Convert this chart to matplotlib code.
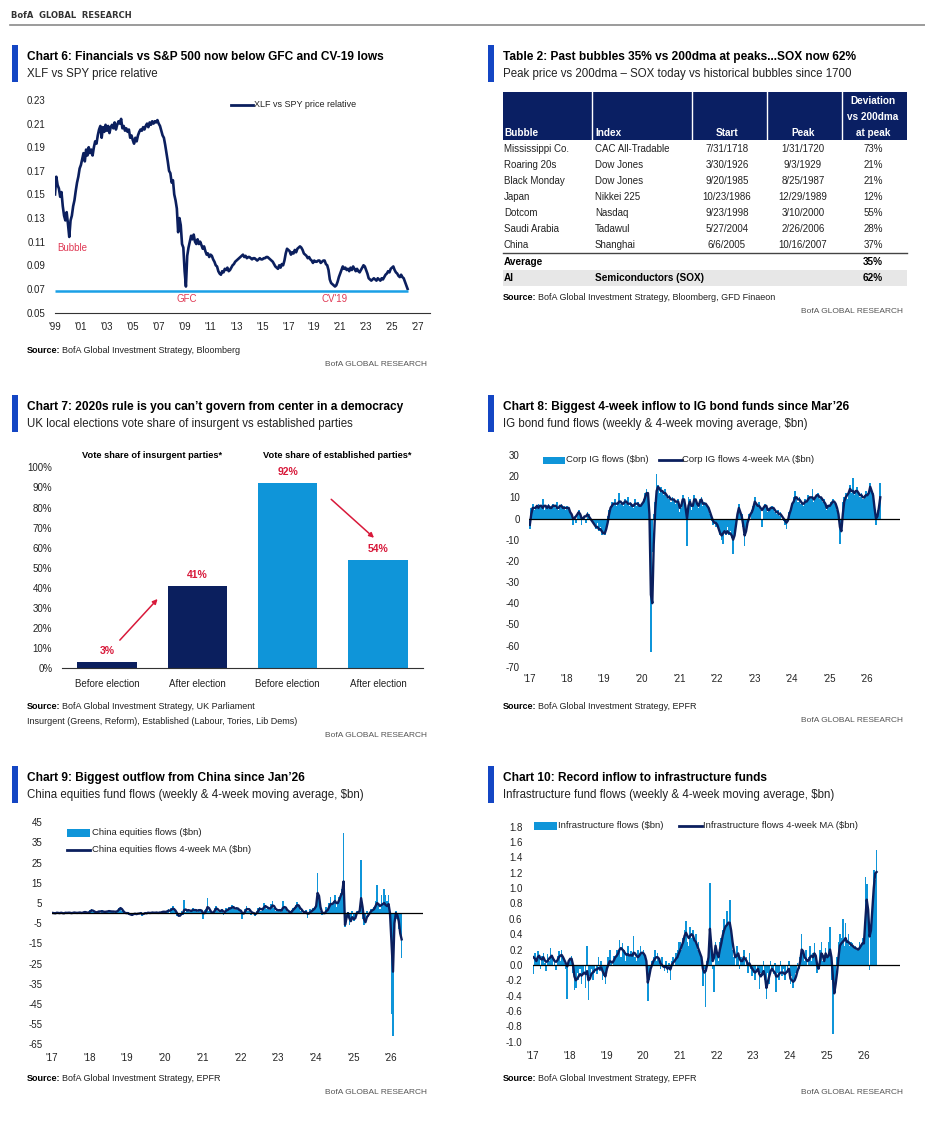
import numpy as np
import pandas as pd
import matplotlib
matplotlib.use("Agg")
import matplotlib.pyplot as plt
from matplotlib.patches import Rectangle
from matplotlib.lines import Line2D

plt.rcParams["font.family"] = ["Liberation Sans Narrow", "Liberation Sans", "DejaVu Sans"]
plt.rcParams["axes.unicode_minus"] = False

NAVY = "#0b1f5e"
LIGHT = "#0f95d9"
ACCENT = "#1446c4"
RED = "#d8193a"
GRAY = "#555555"

# ---------------- data ----------------
# Chart 6: XLF vs SPY price relative, sampled every 0.1 yr from 1999.0
xlf_rel = [
    0.150, 0.165, 0.158, 0.155, 0.148, 0.152, 0.140, 0.132, 0.128, 0.135,  # 1999
    0.125, 0.114, 0.128, 0.132, 0.140, 0.145, 0.153, 0.160, 0.165, 0.172,  # 2000
    0.175, 0.180, 0.185, 0.178, 0.188, 0.183, 0.190, 0.185, 0.188, 0.183,  # 2001
    0.190, 0.195, 0.193, 0.200, 0.205, 0.208, 0.198, 0.207, 0.203, 0.209,  # 2002
    0.204, 0.208, 0.202, 0.207, 0.209, 0.206, 0.211, 0.205, 0.209, 0.212,  # 2003
    0.210, 0.214, 0.206, 0.208, 0.204, 0.206, 0.203, 0.205, 0.198, 0.200,  # 2004
    0.196, 0.193, 0.198, 0.195, 0.200, 0.203, 0.205, 0.204, 0.207, 0.205,  # 2005
    0.208, 0.210, 0.207, 0.211, 0.209, 0.212, 0.210, 0.212, 0.211, 0.213,  # 2006
    0.210, 0.208, 0.204, 0.200, 0.198, 0.192, 0.185, 0.178, 0.170, 0.168,  # 2007
    0.160, 0.162, 0.150, 0.145, 0.138, 0.118, 0.130, 0.124, 0.108, 0.105,  # 2008
    0.085, 0.072, 0.098, 0.105, 0.110, 0.115, 0.112, 0.116, 0.110, 0.108,  # 2009
    0.112, 0.108, 0.110, 0.107, 0.104, 0.106, 0.102, 0.099, 0.100, 0.097,  # 2010
    0.099, 0.098, 0.095, 0.093, 0.090, 0.089, 0.085, 0.083, 0.082, 0.085,  # 2011
    0.084, 0.087, 0.086, 0.088, 0.085, 0.086, 0.088, 0.090, 0.091, 0.093,  # 2012
    0.094, 0.095, 0.096, 0.097, 0.098, 0.099, 0.097, 0.098, 0.096, 0.097,  # 2013
    0.097, 0.096, 0.095, 0.096, 0.096, 0.095, 0.094, 0.095, 0.096, 0.095,  # 2014
    0.095, 0.096, 0.096, 0.097, 0.097, 0.096, 0.095, 0.094, 0.093, 0.091,  # 2015
    0.089, 0.088, 0.087, 0.090, 0.088, 0.091, 0.090, 0.094, 0.100, 0.104,  # 2016
    0.103, 0.102, 0.099, 0.101, 0.100, 0.103, 0.101, 0.104, 0.105, 0.106,  # 2017
    0.105, 0.103, 0.100, 0.099, 0.098, 0.096, 0.097, 0.095, 0.094, 0.092,  # 2018
    0.094, 0.093, 0.093, 0.094, 0.094, 0.092, 0.093, 0.094, 0.094, 0.091,  # 2019
    0.090, 0.086, 0.078, 0.075, 0.074, 0.073, 0.072, 0.073, 0.076, 0.080,  # 2020
    0.083, 0.086, 0.089, 0.087, 0.088, 0.086, 0.087, 0.085, 0.088, 0.086,  # 2021
    0.089, 0.087, 0.085, 0.087, 0.085, 0.084, 0.086, 0.088, 0.090, 0.089,  # 2022
    0.086, 0.083, 0.079, 0.078, 0.077, 0.078, 0.079, 0.078, 0.077, 0.079,  # 2023
    0.078, 0.077, 0.079, 0.078, 0.080, 0.082, 0.083, 0.085, 0.084, 0.087,  # 2024
    0.088, 0.089, 0.086, 0.084, 0.083, 0.081, 0.080, 0.082, 0.080, 0.079,  # 2025
    0.076, 0.073, 0.070,                                                   # 2026
]
xlf_floor = 0.068
xlf_notes = [("Bubble", 1999.2, 0.105), ("GFC", 2009.2, 0.0615), ("CV'19", 2020.6, 0.0612)]

# Table 2
bubble_names = ["Mississippi Co.", "Roaring 20s", "Black Monday", "Japan", "Dotcom", "Saudi Arabia", "China"]
bubble_index = ["CAC All-Tradable", "Dow Jones", "Dow Jones", "Nikkei 225", "Nasdaq", "Tadawul", "Shanghai"]
bubble_start = ["7/31/1718", "3/30/1926", "9/20/1985", "10/23/1986", "9/23/1998", "5/27/2004", "6/6/2005"]
bubble_peak = ["1/31/1720", "9/3/1929", "8/25/1987", "12/29/1989", "3/10/2000", "2/26/2006", "10/16/2007"]
bubble_dev = ["73%", "21%", "21%", "12%", "55%", "28%", "37%"]

# Chart 7
vote_groups = ["Vote share of insurgent parties*", "Vote share of established parties*"]
vote_labels = ["Before election", "After election", "Before election", "After election"]
vote_share = [0.03, 0.41, 0.92, 0.54]
vote_colors = [NAVY, NAVY, LIGHT, LIGHT]

# Chart 8: IG bond fund flows, $bn, bi-weekly readings
ig_flows = [
    -5, 5, 7, 4, 6, 5, 7, 5, 6, 9, 4, 6, 5, 7, 6, 5, 7, 6, 5, 8, 4, 6, 7, 5, 6, 4,  # 2017
    6, 4, 3, 1, -3, 1, -2, 3, 4, 2, -3, 0, 1, -2, 3, 2, 0, -1, -2, -3, -5, -2, -6, -4, -8, -7,  # 2018
    -8, -5, 1, 4, 6, 8, 7, 9, 6, 8, 12, 7, 8, 6, 9, 7, 10, 6, 8, 7, 5, 9, 6, 8, 7, 6,  # 2019
    7, 9, 12, 14, 11, -8, -63, -16, 2, 8, 21, 16, 12, 15, 13, 11, 14, 10, 9, 11, 8, 10, 9, 7, 8, 9,  # 2020
    3, 5, 11, 9, 6, -13, 10, 9, 4, 6, 11, 9, 7, 5, 9, 10, 6, 8, 7, 6, 4, 2, -1, -3, -2, -4,  # 2021
    -3, -6, -8, -10, -12, -7, -8, -4, -8, -6, -9, -17, -6, -2, 2, 7, 3, 2, -4, -13, -6, -1, 2, 0, 4, 6,  # 2022
    10, 7, 6, 8, 4, -4, 5, 7, 6, 3, 5, 4, 6, 5, 3, 2, 4, 1, 3, 0, -1, -3, -5, 0, 3, 5,  # 2023
    7, 10, 13, 9, 8, 10, 7, 8, 6, 9, 8, 11, 9, 10, 14, 8, 10, 11, 12, 9, 10, 8, 9, 7, 4, 6,  # 2024
    6, 8, 9, 7, 6, 4, 1, -12, -2, 8, 10, 12, 9, 13, 16, 12, 19, 11, 13, 15, 12, 10, 12, 9, 11, 13,  # 2025
    12, 13, 17, 14, 12, 3, -3, 4, 6, 17,  # 2026
]
ig_ma = [
    -3, 2, 5, 5, 5, 6, 5, 6, 6, 5, 6, 6, 5, 6, 5, 5, 6, 6, 6, 5, 5, 6, 6, 5, 5, 5,  # 2017
    5, 5, 3, 2, 0, 0, 1, 2, 3, 2, 0, 0, 1, 1, 2, 1, 0, -1, -2, -3, -4, -4, -5, -5, -6, -7,  # 2018
    -7, -5, -2, 2, 5, 6, 7, 7, 7, 7, 8, 8, 7, 7, 8, 8, 7, 7, 7, 6, 6, 7, 7, 7, 6, 6,  # 2019
    7, 8, 10, 12, 12, 2, -36, -40, -12, 4, 13, 15, 14, 13, 13, 12, 12, 11, 10, 10, 9, 9, 9, 8, 8, 8,  # 2020
    5, 6, 9, 9, 5, 0, 6, 8, 6, 6, 9, 9, 7, 6, 8, 9, 7, 7, 7, 6, 5, 3, 1, -1, -2, -2,  # 2021
    -3, -5, -7, -8, -7, -6, -7, -6, -7, -7, -8, -10, -8, -3, 2, 5, 3, 1, -3, -8, -6, -2, 0, 2, 3, 5,  # 2022
    8, 7, 6, 6, 5, 4, 5, 6, 6, 4, 4, 5, 5, 5, 4, 3, 3, 2, 2, 1, 0, -1, -2, -1, 2, 4,  # 2023
    7, 8, 10, 10, 9, 9, 8, 7, 7, 8, 8, 9, 10, 10, 10, 9, 10, 11, 11, 10, 10, 9, 8, 7, 5, 6,  # 2024
    6, 7, 8, 8, 7, 5, 2, -4, -6, 2, 8, 10, 11, 12, 14, 13, 13, 12, 13, 13, 12, 11, 11, 10, 10, 11,  # 2025
    11, 12, 15, 13, 11, 5, 0, 1, 5, 10,  # 2026
]

# Chart 9: China equities fund flows, $bn
china_flows = [
    0.3, -0.5, 0.2, 0.5, -0.3, 0.1, 0.4, -0.6, 0.2, 0.3, -0.2, 0.5, 0.1, -0.4, 0.3, 0.6, -0.2, 0.1, 0.4, 0.2, -0.3, 0.5, 0.8, 0.3, -0.1, 0.4,  # 2017
    1.5, 2.2, 0.5, 1.0, -0.5, 0.8, 1.2, 0.3, 1.5, 0.6, 0.2, 1.0, 0.8, 1.4, 0.5, 0.9, 1.1, 0.3, 0.7, 1.2, 2.5, 3.0, 1.0, 0.5, -0.5, 0.3,  # 2018
    0.5, -1.0, -0.5, -1.2, 0.3, -0.6, -0.8, 0.2, -0.4, 0.5, -1.5, 0.3, 0.2, -0.5, 0.8, -0.3, 0.4, 0.6, -0.2, 0.3, 0.5, -0.4, 0.7, 0.2, 1.0, 0.6,  # 2019
    0.5, 1.0, 1.8, 0.3, 2.5, 3.5, 1.5, 0.5, -1.5, -2.0, -0.5, 1.0, -1.0, 6.5, 0.5, 1.5, 2.0, 0.8, 1.2, 2.5, 1.0, 1.8, 0.6, 2.2, 1.5, 1.0,  # 2020
    -3.0, 1.5, 2.0, 7.4, 1.0, 0.5, -0.5, 0.8, 2.5, 3.5, 1.0, 0.5, 1.5, 2.0, -1.0, 0.8, 2.5, 1.5, 3.0, 2.0, 4.0, 2.5, 1.5, 3.0, 2.0, 1.0,  # 2021
    1.5, -3.0, 0.5, 2.0, 3.5, 1.0, 2.5, -1.0, 0.5, 0.0, -1.5, 1.0, 2.5, 3.0, 1.0, 2.0, 5.0, 3.5, 2.0, 3.0, 1.5, 4.5, 6.0, 2.5, 1.0, 2.0,  # 2022
    1.0, 2.0, 0.5, 6.0, 3.0, 2.0, 0.5, 1.0, -0.5, 1.5, 2.5, 3.0, 4.0, 5.5, 3.0, 1.0, 2.0, -0.5, 0.5, 1.5, -2.5, 0.5, 2.0, 1.0, 2.5, 3.0,  # 2023
    4.0, 20.0, 8.0, 1.0, -1.0, 0.5, 0.0, 3.0, 1.0, 5.0, 8.0, 4.0, 6.0, 9.0, 3.0, 5.0, 8.0, 10.0, 12.0, 39.5, -7.0, -4.0, 0.5, -6.0, -3.0, 1.0,  # 2024
    -4.0, -2.0, 1.0, 0.0, 3.0, 26.5, -3.0, -6.0, -4.0, 1.0, -2.0, 0.5, 2.0, 1.0, 3.0, 6.0, 14.0, 5.0, 2.0, 9.0, 4.0, 12.0, 9.0, 6.0, 9.0, -2.0,  # 2025
    -50.0, -61.0, -2.0, 1.0, -3.0, -8.0, -10.0, -22.0,  # 2026
]
china_ma = [
    0.1, 0.0, -0.1, 0.2, 0.1, 0.0, 0.2, 0.0, -0.1, 0.2, 0.1, 0.2, 0.2, 0.0, 0.1, 0.3, 0.2, 0.1, 0.2, 0.3, 0.1, 0.2, 0.5, 0.5, 0.2, 0.3,  # 2017
    0.8, 1.4, 1.2, 0.8, 0.4, 0.5, 0.8, 0.8, 0.9, 0.8, 0.6, 0.7, 0.8, 1.0, 0.9, 0.8, 0.8, 0.7, 0.7, 1.0, 1.8, 2.5, 2.0, 1.0, 0.2, 0.0,  # 2018
    0.0, -0.4, -0.7, -0.9, -0.5, -0.3, -0.5, -0.3, -0.2, 0.0, -0.5, -0.4, 0.0, -0.1, 0.2, 0.1, 0.1, 0.3, 0.2, 0.2, 0.3, 0.1, 0.3, 0.3, 0.6, 0.7,  # 2019
    0.6, 0.8, 1.2, 1.2, 1.6, 2.2, 2.0, 1.2, 0.0, -1.2, -1.3, -0.5, 0.0, 1.5, 1.8, 1.3, 1.5, 1.2, 1.1, 1.6, 1.5, 1.5, 1.2, 1.4, 1.5, 1.3,  # 2020
    0.0, 0.0, 1.0, 3.0, 2.5, 1.2, 0.2, 0.3, 1.2, 2.3, 2.0, 1.2, 1.0, 1.5, 0.8, 0.6, 1.3, 1.6, 2.2, 2.4, 2.8, 3.0, 2.2, 2.4, 2.3, 1.6,  # 2021
    1.2, 0.0, -0.2, 0.8, 2.0, 2.0, 1.8, 0.8, 0.2, 0.0, -0.5, 0.0, 1.0, 2.2, 2.0, 1.8, 2.8, 3.5, 3.0, 2.6, 2.2, 2.8, 3.8, 3.5, 2.2, 1.6,  # 2022
    1.4, 1.5, 1.2, 2.5, 3.0, 2.8, 1.6, 1.0, 0.4, 0.6, 1.5, 2.2, 3.0, 4.0, 3.8, 2.5, 1.8, 0.8, 0.4, 0.6, -0.2, -0.2, 0.5, 1.0, 1.6, 2.2,  # 2023
    3.5, 10.0, 8.5, 3.0, 0.5, 0.0, 0.0, 1.0, 1.5, 3.0, 4.5, 4.5, 5.0, 6.0, 5.0, 5.0, 6.5, 8.5, 10.0, 15.7, -5.8, -2.5, 0.0, -2.5, -4.0, -2.0,  # 2024
    -3.0, -2.5, 0.0, 0.5, 1.0, 7.4, 3.0, -3.0, -4.5, -2.0, -1.0, 0.0, 1.0, 1.5, 2.0, 3.5, 5.0, 4.5, 3.5, 4.0, 4.5, 5.0, 4.0, 3.5, 4.5, 0.0,  # 2025
    -15.0, -29.0, -5.0, 0.0, -1.0, -4.0, -10.0, -13.0,  # 2026
]

# Chart 10: Infrastructure fund flows, $bn
infra_flows = [
    -0.12, 0.15, 0.05, 0.18, 0.1, -0.05, 0.12, 0.16, 0.02, -0.08, 0.14, 0.05, 0.22, 0.1, 0.0, 0.08, -0.06, 0.12, 0.18, 0.05, 0.2, 0.1, 0.02, -0.05, -0.45, 0.0,  # 2017
    0.08, 0.12, -0.1, -0.33, -0.3, -0.1, -0.2, -0.05, -0.25, -0.12, 0.0, -0.3, 0.25, -0.46, -0.15, -0.05, -0.2, -0.1, 0.0, -0.12, 0.1, -0.08, 0.05, -0.2, -0.15, -0.25,  # 2018
    -0.05, 0.1, 0.2, 0.05, 0.0, 0.12, 0.08, 0.2, 0.15, 0.32, 0.1, 0.28, 0.2, 0.05, 0.15, 0.25, 0.1, 0.18, 0.12, 0.38, 0.1, 0.05, 0.2, 0.12, 0.25, 0.15,  # 2019
    0.2, 0.1, -0.05, -0.47, -0.2, 0.0, 0.05, 0.1, 0.2, 0.05, 0.15, 0.08, -0.05, 0.1, 0.0, -0.08, 0.05, -0.1, 0.02, -0.2, 0.05, 0.1, 0.0, 0.15, 0.2, 0.3,  # 2020
    0.3, 0.2, 0.35, 0.45, 0.57, 0.3, 0.25, 0.5, 0.35, 0.45, 0.3, 0.4, 0.2, 0.3, 0.15, 0.05, -0.27, -0.05, -0.55, 0.05, 0.2, 1.07, 0.3, -0.05, -0.35, 0.3,  # 2021
    0.15, 0.05, 0.3, 0.35, 0.45, 0.6, 0.5, 0.7, 0.55, 0.85, 0.4, 0.2, 0.1, 0.0, 0.25, 0.15, -0.05, 0.1, 0.05, 0.2, 0.0, 0.1, -0.1, 0.15, -0.05, -0.15,  # 2022
    -0.1, -0.2, 0.0, -0.05, -0.32, -0.1, -0.15, 0.05, -0.2, -0.45, -0.1, -0.25, 0.05, -0.05, -0.12, 0.02, -0.35, -0.1, -0.2, 0.05, -0.15, -0.05, -0.2, 0.0, -0.1, 0.05,  # 2023
    -0.25, -0.15, -0.3, -0.2, -0.1, 0.02, -0.05, 0.1, 0.4, 0.15, 0.05, 0.2, 0.0, 0.1, 0.25, 0.05, 0.15, 0.28, 0.1, -0.1, -0.05, 0.2, 0.3, 0.05, 0.1, 0.22,  # 2024
    0.1, 0.3, 0.5, -0.2, -0.9, -0.3, -0.25, 0.1, 0.3, 0.4, 0.35, 0.6, 0.25, 0.55, 0.3, 0.4, 0.25, 0.3, 0.28, 0.22, 0.25, 0.2, 0.22, 0.3, 0.25, 0.35,  # 2025
    0.3, 1.15, 1.05, 0.6, -0.07, 0.5, 0.9, 1.24, 1.1, 1.5,  # 2026
]
infra_ma = [
    0.1, 0.08, 0.05, 0.1, 0.12, 0.08, 0.07, 0.1, 0.06, 0.04, 0.05, 0.08, 0.1, 0.12, 0.08, 0.05, 0.04, 0.06, 0.1, 0.12, 0.13, 0.1, 0.06, 0.02, -0.02, 0.05,  # 2017
    0.08, 0.08, 0.0, -0.15, -0.2, -0.18, -0.15, -0.12, -0.14, -0.12, -0.1, -0.12, -0.08, -0.2, -0.18, -0.12, -0.1, -0.08, -0.06, -0.06, -0.04, -0.05, -0.03, -0.08, -0.12, -0.15,  # 2018
    -0.05, 0.0, 0.05, 0.04, 0.03, 0.06, 0.1, 0.12, 0.15, 0.2, 0.22, 0.2, 0.18, 0.15, 0.13, 0.14, 0.12, 0.13, 0.12, 0.16, 0.15, 0.12, 0.1, 0.12, 0.15, 0.16,  # 2019
    0.15, 0.12, 0.05, -0.23, -0.15, -0.05, 0.0, 0.05, 0.08, 0.1, 0.1, 0.08, 0.02, 0.0, -0.02, -0.03, -0.02, -0.05, -0.03, -0.06, 0.0, 0.03, 0.05, 0.08, 0.1, 0.15,  # 2020
    0.2, 0.25, 0.3, 0.38, 0.42, 0.38, 0.35, 0.38, 0.4, 0.38, 0.32, 0.3, 0.25, 0.2, 0.15, 0.1, -0.05, -0.1, -0.08, 0.0, 0.1, 0.47, 0.25, 0.05, 0.1, 0.25,  # 2021
    0.15, 0.1, 0.2, 0.28, 0.38, 0.45, 0.5, 0.52, 0.55, 0.55, 0.45, 0.3, 0.18, 0.1, 0.12, 0.15, 0.08, 0.05, 0.05, 0.1, 0.08, 0.05, 0.0, 0.02, -0.02, -0.05,  # 2022
    -0.08, -0.1, -0.08, -0.05, -0.12, -0.15, -0.12, -0.08, -0.15, -0.3, -0.22, -0.15, -0.08, -0.05, -0.08, -0.1, -0.15, -0.15, -0.12, -0.1, -0.1, -0.1, -0.12, -0.1, -0.08, -0.05,  # 2023
    -0.18, -0.2, -0.22, -0.2, -0.15, -0.08, -0.03, 0.05, 0.2, 0.18, 0.1, 0.08, 0.05, 0.06, 0.1, 0.12, 0.1, 0.15, 0.12, 0.0, -0.05, 0.05, 0.15, 0.12, 0.05, 0.15,  # 2024
    0.1, 0.12, 0.2, 0.1, -0.15, -0.37, -0.25, -0.1, 0.1, 0.25, 0.28, 0.3, 0.32, 0.35, 0.3, 0.3, 0.28, 0.26, 0.25, 0.23, 0.22, 0.21, 0.2, 0.22, 0.25, 0.28,  # 2025
    0.28, 0.58, 0.85, 0.72, 0.37, 0.45, 0.72, 1.0, 1.19, 1.21,  # 2026
]

# ---------------- layout helpers (pixel coordinates) ----------------
W, H = 925, 1124
fig = plt.figure(figsize=(W / 100, H / 100), dpi=100)
fig.patch.set_facecolor("white")


def add_ax(l, t, r, b):
    return fig.add_axes([l / W, 1 - b / H, (r - l) / W, (b - t) / H])


def txt(x, y, s, **kw):
    kw.setdefault("va", "center")
    return fig.text(x / W, 1 - y / H, s, **kw)


def rect(x0, y0, x1, y1, color):
    fig.patches.append(Rectangle((x0 / W, 1 - y1 / H), (x1 - x0) / W, (y1 - y0) / H,
                                 transform=fig.transFigure, color=color, lw=0))


def hline(x0, x1, y, color, lw):
    fig.add_artist(Line2D([x0 / W, x1 / W], [1 - y / H] * 2, transform=fig.transFigure, color=color, lw=lw))


def vline(x, y0, y1, color, lw):
    fig.add_artist(Line2D([x / W] * 2, [1 - y0 / H, 1 - y1 / H], transform=fig.transFigure, color=color, lw=lw))


def heading(x, y, title, subtitle):
    rect(x - 15, y - 12, x - 9, y + 25, ACCENT)
    txt(x, y, title, fontsize=8.6, fontweight="bold", color="black")
    txt(x, y + 17, subtitle, fontsize=8.3, color="#222222")


def footer(x, y, source, right, extra=None):
    t = txt(x, y, "Source:", fontsize=6.5, fontweight="bold", color="black")
    fig.canvas.draw()
    bb = t.get_window_extent()
    txt(x + bb.width + 2, y, source, fontsize=6.5, color="#222222")
    if extra:
        txt(x, y + 14.3, extra, fontsize=6.5, color="#222222")
        y += 14.3
    txt(right, y + 14.3, "BofA GLOBAL RESEARCH", fontsize=6.0, color=GRAY, ha="right")


def clean(ax):
    for s in ax.spines.values():
        s.set_visible(False)
    ax.patch.set_alpha(0)


def biweekly_dates(n):
    out = []
    for yr in range(2017, 2027):
        out += list(pd.date_range(f"{yr}-01-06", periods=26, freq="14D"))
    return out[:n]


# ---------------- page header ----------------
txt(11, 15.5, "BofA  GLOBAL  RESEARCH", fontsize=6, fontweight="bold", color="#333333", family="DejaVu Sans")
hline(10, 925, 25, "#8a8a8a", 1.2)

# ---------------- Chart 6 ----------------
heading(27, 57, "Chart 6: Financials vs S&P 500 now below GFC and CV-19 lows", "XLF vs SPY price relative")
ax6 = add_ax(55, 100, 430, 312.5)
xlf_years = 1999 + np.arange(len(xlf_rel)) / 10
ax6.plot(xlf_years, xlf_rel, color=NAVY, lw=1.9)
ax6.hlines(xlf_floor, xlf_years[0], xlf_years[-1], color="#1aa0e6", lw=1.8)
ax6.set_xlim(1999, 2027.93)
ax6.set_ylim(0.05, 0.23)
ax6.set_yticks(np.round(np.arange(0.05, 0.2301, 0.02), 2))
ax6.set_yticklabels([f"{v:.2f}" for v in np.arange(0.05, 0.2301, 0.02)])
ax6.set_xticks(range(1999, 2028, 2))
ax6.set_xticklabels([f"'{y % 100:02d}" for y in range(1999, 2028, 2)])
clean(ax6)
ax6.spines["bottom"].set_visible(True)
ax6.spines["bottom"].set_color("#333333")
ax6.tick_params(length=0, labelsize=7, colors="#222222")
ax6.tick_params(axis="y", pad=7)
ax6.tick_params(axis="x", pad=6.5)
for label, xv, yv in xlf_notes:
    ax6.text(xv, yv, label, color="#e03a55", fontsize=7, va="center", ha="left" if label == "Bubble" else "center")
hline(231, 253, 104.5, NAVY, 2)
txt(254, 104.5, "XLF vs SPY price relative", fontsize=6.5, color="#222222")
footer(27, 350, "BofA Global Investment Strategy, Bloomberg", 427)

# ---------------- Table 2 ----------------
heading(503, 57, "Table 2: Past bubbles 35% vs 200dma at peaks...SOX now 62%",
        "Peak price vs 200dma \u2013 SOX today vs historical bubbles since 1700")
TL, TR = 503, 907
col_x = [504, 595, 727, 803, 873]
rect(TL, 92, TR, 140, "#0a1f63")
for xv in [592, 692, 767, 842]:
    vline(xv, 92, 140, "white", 1)
hdr = dict(fontsize=7.2, fontweight="bold", color="white")
txt(col_x[0], 133, "Bubble", **hdr)
txt(col_x[1], 133, "Index", **hdr)
txt(col_x[2], 133, "Start", ha="center", **hdr)
txt(col_x[3], 133, "Peak", ha="center", **hdr)
for yv, s in zip([101, 117, 133], ["Deviation", "vs 200dma", "at peak"]):
    txt(col_x[4], yv, s, ha="center", **hdr)
body = dict(fontsize=7.0, color="#222222")
for i in range(len(bubble_names)):
    yv = 149 + 16 * i
    txt(col_x[0], yv, bubble_names[i], **body)
    txt(col_x[1], yv, bubble_index[i], **body)
    txt(col_x[2], yv, bubble_start[i], ha="center", **body)
    txt(col_x[3], yv, bubble_peak[i], ha="center", **body)
    txt(col_x[4], yv, bubble_dev[i], ha="center", **body)
hline(TL, TR, 253, "#444444", 1)
bold = dict(fontsize=7.2, fontweight="bold", color="black")
txt(col_x[0], 262, "Average", **bold)
txt(col_x[4], 262, "35%", ha="center", **bold)
rect(TL, 270, TR, 286, "#e7e7e7")
txt(col_x[0], 278, "AI", **bold)
txt(col_x[1], 278, "Semiconductors (SOX)", **bold)
txt(col_x[4], 278, "62%", ha="center", **bold)
footer(503, 297.3, "BofA Global Investment Strategy, Bloomberg, GFD Finaeon", 903)

# ---------------- Chart 7 ----------------
heading(27, 407, "Chart 7: 2020s rule is you can\u2019t govern from center in a democracy",
        "UK local elections vote share of insurgent vs established parties")
ax7 = add_ax(62, 467.3, 423, 668.3)
xpos = np.arange(len(vote_share))
ax7.bar(xpos, vote_share, width=0.66, color=vote_colors)
ax7.set_xlim(-0.5, 3.5)
ax7.set_ylim(0, 1.0)
ax7.set_yticks(np.arange(0, 1.01, 0.1))
ax7.set_yticklabels([f"{int(round(v * 100))}%" for v in np.arange(0, 1.01, 0.1)])
ax7.set_xticks(xpos)
ax7.set_xticklabels(vote_labels)
clean(ax7)
ax7.spines["bottom"].set_visible(True)
ax7.spines["bottom"].set_color("#333333")
ax7.tick_params(length=0, labelsize=7, colors="#222222")
ax7.tick_params(axis="x", labelsize=7, pad=8)
ax7.tick_params(axis="y", pad=7)
for i, v in enumerate(vote_share):
    ax7.text(i, v + 0.055, f"{v:.0%}", color=RED, fontsize=7.5, fontweight="bold", ha="center", va="center")
ax7.text(0.5, 1.06, vote_groups[0], fontsize=6.7, fontweight="bold", ha="center", va="center", clip_on=False)
ax7.text(2.55, 1.06, vote_groups[1], fontsize=6.7, fontweight="bold", ha="center", va="center", clip_on=False)
arrow = dict(arrowstyle="-|>", color=RED, lw=1.1, mutation_scale=7)
ax7.annotate("", xy=(0.58, 0.355), xytext=(0.12, 0.13), arrowprops=arrow)
ax7.annotate("", xy=(2.98, 0.64), xytext=(2.46, 0.85), arrowprops=arrow)
footer(27, 706.7, "BofA Global Investment Strategy, UK Parliament", 427,
       extra="Insurgent (Greens, Reform), Established (Labour, Tories, Lib Dems)")


# ---------------- flow charts ----------------
def flow_chart(box, flows, ma, yticks, ylabels, xend, xpad, ypad):
    ax = add_ax(*box)
    dates = biweekly_dates(len(flows))
    ax.bar(dates, flows, width=16, color=LIGHT, linewidth=0)
    ax.plot(dates, ma, color=NAVY, lw=1.7)
    ax.axhline(0, color="black", lw=0.9)
    ax.set_xlim(pd.Timestamp("2017-01-01"), pd.Timestamp(xend))
    ax.set_ylim(yticks[-1], yticks[0])
    ax.set_yticks(yticks)
    ax.set_yticklabels(ylabels)
    ax.set_xticks([pd.Timestamp(f"{y}-01-01") for y in range(2017, 2027)])
    ax.set_xticklabels([f"'{y % 100:02d}" for y in range(2017, 2027)])
    clean(ax)
    ax.tick_params(length=0, labelsize=7, colors="#222222")
    ax.tick_params(axis="x", pad=xpad)
    ax.tick_params(axis="y", pad=ypad)
    return ax


# Chart 8
heading(503, 407, "Chart 8: Biggest 4-week inflow to IG bond funds since Mar\u201926",
        "IG bond fund flows (weekly & 4-week moving average, $bn)")
ig_ticks = list(range(30, -71, -10))
flow_chart((529.3, 455, 900, 666.7), ig_flows, ig_ma, ig_ticks, [str(v) for v in ig_ticks],
           "2026-11-20", 5, 7)
rect(542.7, 456.5, 565, 464, LIGHT)
txt(566.5, 460, "Corp IG flows ($bn)", fontsize=6.8, color="#222222")
hline(659.3, 681.7, 460, NAVY, 2)
txt(682.5, 460, "Corp IG flows 4-week MA ($bn)", fontsize=6.8, color="#222222")
footer(503, 706.7, "BofA Global Investment Strategy, EPFR", 903)

# Chart 9
heading(27, 778.3, "Chart 9: Biggest outflow from China since Jan\u201926",
        "China equities fund flows (weekly & 4-week moving average, $bn)")
cn_ticks = list(range(45, -66, -10))
flow_chart((52, 822.3, 423, 1044.3), china_flows, china_ma, cn_ticks, [str(v) for v in cn_ticks],
           "2026-11-07", 6.5, 7)
rect(66.7, 829, 90, 836.5, LIGHT)
txt(91.5, 832.7, "China equities flows ($bn)", fontsize=6.8, color="#222222")
hline(66.7, 90, 849.7, NAVY, 2)
txt(91.5, 849.7, "China equities flows 4-week MA ($bn)", fontsize=6.8, color="#222222")
footer(27, 1078.3, "BofA Global Investment Strategy, EPFR", 427)

# Chart 10
heading(503, 778.3, "Chart 10: Record inflow to infrastructure funds",
        "Infrastructure fund flows (weekly & 4-week moving average, $bn)")
inf_ticks = [round(v, 1) for v in np.arange(1.8, -1.01, -0.2)]
flow_chart((533, 826.7, 900, 1041.7), infra_flows, infra_ma, inf_ticks, [f"{v:.1f}" for v in inf_ticks],
           "2026-12-31", 7, 7.5)
rect(534, 822, 557.3, 830, LIGHT)
txt(558.5, 826, "Infrastructure flows ($bn)", fontsize=6.8, color="#222222")
hline(679, 701.7, 826, NAVY, 2)
txt(703, 826, "Infrastructure flows 4-week MA ($bn)", fontsize=6.8, color="#222222")
footer(503, 1078.3, "BofA Global Investment Strategy, EPFR", 903)

fig.savefig("out.png", dpi=100, facecolor="white")
